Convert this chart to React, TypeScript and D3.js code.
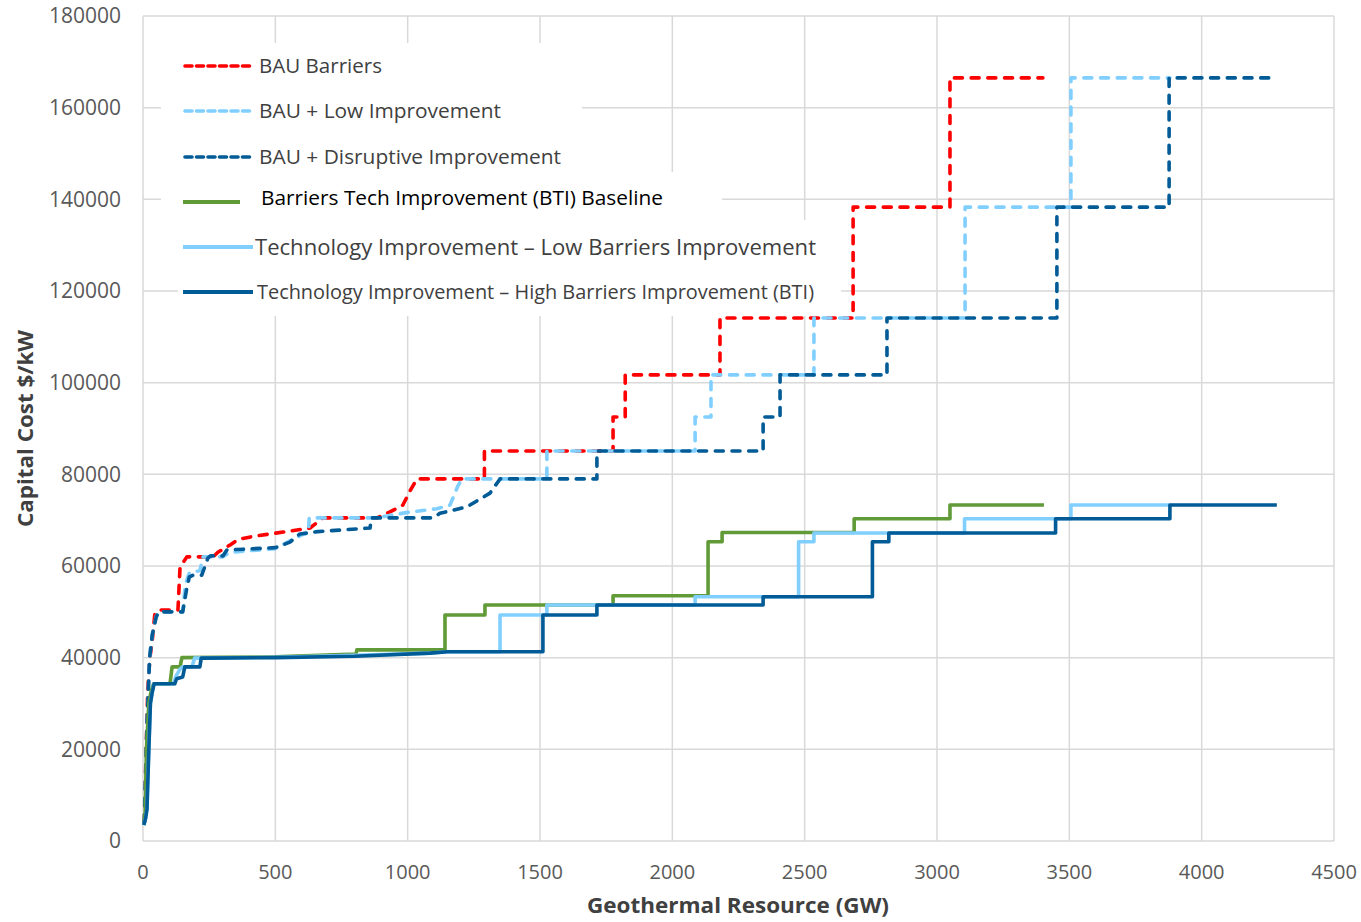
import React from "react";
import * as d3 from "d3";

type Pt = [number, number];

const xTicks = [0, 500, 1000, 1500, 2000, 2500, 3000, 3500, 4000, 4500];
const yTicks = [0, 20000, 40000, 60000, 80000, 100000, 120000, 140000, 160000, 180000];

const bauBarriers: Pt[] = [
  [5, 4000], [12, 20000], [18, 33000], [26, 40000], [34, 43200], [45, 49700], [64, 50400], [132, 50400],
  [140, 59800], [166, 62000], [265, 62000], [283, 63000], [329, 64600], [360, 65800], [420, 66500],
  [530, 67400], [631, 68300], [680, 70500], [884, 70500], [933, 71800], [982, 73300], [1010, 76500],
  [1035, 79000], [1290, 79000], [1290, 85100], [1776, 85100], [1776, 92500], [1822, 92500],
  [1822, 101700], [2180, 101700], [2180, 114100], [2683, 114100], [2683, 138300], [3049, 138300],
  [3049, 166500], [3400, 166500],
];

const bauLow: Pt[] = [
  [5, 4000], [15, 25000], [25, 40000], [35, 45000], [50, 49000], [60, 50000], [150, 50000],
  [160, 56000], [175, 58500], [215, 59000], [227, 62000], [300, 62000], [330, 63000], [500, 63800],
  [555, 65500], [600, 66800], [625, 67200], [628, 70500], [880, 70500], [1000, 71700], [1110, 72500],
  [1160, 73300], [1190, 77500], [1205, 79000], [1526, 79000], [1526, 85100], [2086, 85100],
  [2086, 92500], [2146, 92500], [2146, 101700], [2535, 101700], [2535, 114100], [3106, 114100],
  [3106, 138300], [3506, 138300], [3506, 166500], [3880, 166500],
];

const bauDisruptive: Pt[] = [
  [5, 4000], [15, 25000], [25, 40000], [35, 45000], [50, 48900], [60, 50000], [150, 50000],
  [165, 55000], [175, 57600], [190, 58000], [222, 58000], [245, 61700], [255, 62200], [302, 62200],
  [317, 63500], [500, 64000], [555, 65200], [593, 67000], [660, 67500], [858, 68300], [862, 70500],
  [1096, 70500], [1122, 71500], [1224, 72900], [1311, 75900], [1349, 79000], [1715, 79000],
  [1715, 85100], [2343, 85100], [2343, 92500], [2407, 92500], [2407, 101700], [2811, 101700],
  [2811, 114100], [3453, 114100], [3453, 138300], [3877, 138300], [3877, 166500], [4275, 166500],
];

const btiBaseline: Pt[] = [
  [3, 3500], [8, 6000], [13, 20000], [22, 30000], [30, 32500], [40, 34300], [102, 34300],
  [110, 38000], [140, 38000], [147, 40000], [500, 40200], [805, 40800], [808, 41700], [1141, 41700],
  [1141, 49300], [1292, 49300], [1292, 51500], [1776, 51500], [1776, 53500], [2135, 53500],
  [2135, 65300], [2188, 65300], [2188, 67300], [2687, 67300], [2687, 70300], [3049, 70300],
  [3049, 73300], [3404, 73300],
];

const techLow: Pt[] = [
  [3, 3500], [10, 5000], [15, 7000], [22, 20000], [28, 30000], [35, 32500], [42, 34300], [115, 34300],
  [125, 36000], [140, 37500], [150, 38000], [185, 38000], [195, 39900], [500, 40100], [800, 40500],
  [1084, 41000], [1150, 41300], [1349, 41300], [1349, 49300], [1526, 49300], [1526, 51500],
  [2086, 51500], [2086, 53300], [2477, 53300], [2477, 65300], [2535, 65300], [2535, 67200],
  [3104, 67200], [3104, 70300], [3506, 70300], [3506, 73300], [3880, 73300],
];

const techHigh: Pt[] = [
  [3, 3500], [10, 5000], [15, 7000], [22, 20000], [28, 30000], [35, 32500], [42, 34300], [120, 34300],
  [127, 35400], [150, 35800], [158, 38000], [215, 38000], [220, 39900], [500, 40000], [800, 40300],
  [1084, 41000], [1150, 41300], [1511, 41300], [1511, 49300], [1715, 49300], [1715, 51500],
  [2343, 51500], [2343, 53300], [2756, 53300], [2756, 65300], [2818, 65300], [2818, 67200],
  [3448, 67200], [3448, 70300], [3880, 70300], [3880, 73300], [4284, 73300],
];

const seriesNames = [
  "BAU Barriers",
  "BAU + Low Improvement",
  "BAU + Disruptive Improvement",
  "Barriers Tech Improvement (BTI) Baseline",
  "Technology Improvement \u2013 Low Barriers Improvement",
  "Technology Improvement \u2013 High Barriers Improvement (BTI)",
];

const W = 1361;
const H = 922;
const FONT = "'Open Sans', 'DejaVu Sans', sans-serif";

export default function App() {
  const x = d3.scaleLinear().domain([0, 4500]).range([143, 1334]);
  const y = d3.scaleLinear().domain([0, 180000]).range([841, 16]);
  const line = d3.line<Pt>().x((d) => x(d[0])).y((d) => y(d[1]));

  const series = [
    { name: seriesNames[0], data: bauBarriers, color: "#FF0000", dashed: true },
    { name: seriesNames[1], data: bauLow, color: "#80CFFF", dashed: true },
    { name: seriesNames[2], data: bauDisruptive, color: "#005B96", dashed: true },
    { name: seriesNames[3], data: btiBaseline, color: "#609B38", dashed: false },
    { name: seriesNames[4], data: techLow, color: "#80CFFF", dashed: false },
    { name: seriesNames[5], data: techHigh, color: "#005B96", dashed: false },
  ];

  const legendRows = [
    { y: 66, lx1: 185, lx2: 253, tx: 259, tl: 123, fill: "#404040", size: 20.5 },
    { y: 111, lx1: 185, lx2: 253, tx: 259, tl: 242, fill: "#404040", size: 20.5 },
    { y: 157, lx1: 185, lx2: 253, tx: 259, tl: 302, fill: "#404040", size: 20.5 },
    { y: 202, lx1: 183, lx2: 240, tx: 261, tl: 402, fill: "#000000", size: 20.5, ty: 198 },
    { y: 247, lx1: 183, lx2: 253, tx: 255, tl: 561, fill: "#404040", size: 21.5 },
    { y: 292, lx1: 183, lx2: 253, tx: 257, tl: 557, fill: "#404040", size: 20 },
  ];

  return (
    <svg width={W} height={H} style={{ position: "absolute", left: 0, top: 0, background: "#fff" }}>
      <rect x={0} y={0} width={W} height={H} fill="#fff" />
      {/* grid */}
      <g stroke="#D9D9D9" strokeWidth={1.5}>
        {xTicks.map((t) => (
          <line key={"gx" + t} x1={x(t)} x2={x(t)} y1={y(180000)} y2={y(0)} />
        ))}
        {yTicks.map((t) => (
          <line key={"gy" + t} x1={x(0)} x2={x(4500)} y1={y(t)} y2={y(t)} />
        ))}
      </g>
      {/* legend background boxes */}
      <g fill="#fff">
        <rect x={161} y={43} width={421} height={129} />
        <rect x={161} y={172} width={561} height={48} />
        <rect x={178} y={220} width={663} height={96} />
      </g>
      {/* series */}
      <g fill="none">
        {series.map((s) => (
          <path
            key={s.name}
            d={line(s.data) || ""}
            stroke={s.color}
            strokeWidth={3.6}
            strokeDasharray={s.dashed ? "8 8.7" : undefined}
            strokeLinecap={s.dashed ? "round" : "butt"}
            strokeLinejoin="round"
          />
        ))}
      </g>
      {/* legend */}
      <g fontFamily={FONT}>
        {series.map((s, i) => {
          const r = legendRows[i];
          return (
            <g key={"lg" + i}>
              <line
                x1={r.lx1}
                x2={r.lx2}
                y1={r.y}
                y2={r.y}
                stroke={s.color}
                strokeWidth={s.dashed ? 3.6 : 4}
                strokeDasharray={s.dashed ? "7 4.5" : undefined}
                strokeLinecap={s.dashed ? "round" : "butt"}
              />
              <text
                x={r.tx}
                y={r.ty ?? r.y}
                dy="0.35em"
                fontSize={r.size}
                fill={r.fill}
                textLength={r.tl}
                lengthAdjust="spacingAndGlyphs"
              >
                {s.name}
              </text>
            </g>
          );
        })}
      </g>
      {/* y tick labels */}
      <g fontFamily={FONT} fontSize={21} fill="#595959" textAnchor="end">
        {yTicks.map((t) => (
          <text key={"yl" + t} x={121} y={y(t)} dy="0.35em">
            {t}
          </text>
        ))}
      </g>
      {/* x tick labels */}
      <g fontFamily={FONT} fontSize={20} fill="#595959" textAnchor="middle">
        {xTicks.map((t) => (
          <text key={"xl" + t} x={x(t)} y={872} dy="0.35em">
            {t}
          </text>
        ))}
      </g>
      {/* axis titles */}
      <text
        x={587}
        y={906}
        dy="0.35em"
        fontFamily={FONT}
        fontWeight="bold"
        fontSize={21}
        fill="#404040"
        textLength={302}
        lengthAdjust="spacingAndGlyphs"
      >
        Geothermal Resource (GW)
      </text>
      <text
        transform={`translate(25, 527) rotate(-90)`}
        dy="0.35em"
        fontFamily={FONT}
        fontWeight="bold"
        fontSize={22}
        fill="#404040"
        textLength={197}
        lengthAdjust="spacingAndGlyphs"
      >
        Capital Cost $/kW
      </text>
    </svg>
  );
}
